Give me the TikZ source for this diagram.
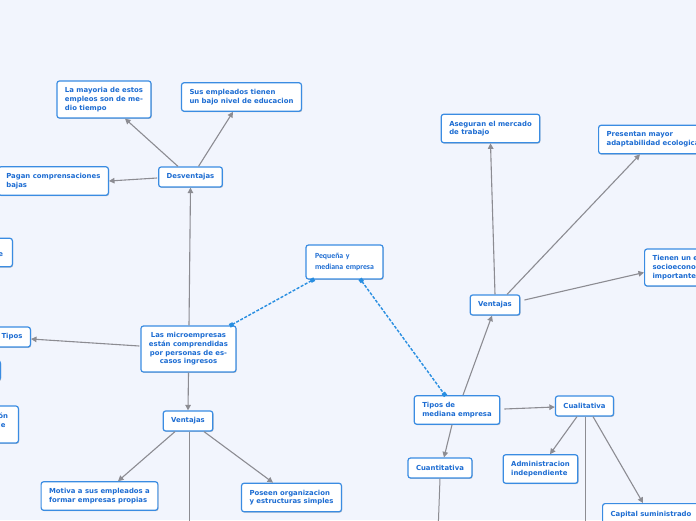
\documentclass[tikz,border=0pt]{standalone}
\usepackage{fontspec}
\newfontfamily\nodefont{DejaVu Sans}
\newfontfamily\pymefont{Carlito}
\usetikzlibrary{arrows.meta,shadows,calc}
\definecolor{bgc}{RGB}{242,245,253}
\definecolor{bordc}{RGB}{58,140,226}
\definecolor{txtc}{RGB}{28,108,210}
\definecolor{linec}{RGB}{140,140,146}
\definecolor{dashc}{RGB}{40,142,225}
\tikzset{
  mbox/.style={draw=bordc, line width=1.2pt, fill=white, rounded corners=2.5pt,
    text=txtc, font=\nodefont\bfseries\fontsize{6.9}{8.7}\selectfont,
    inner xsep=8pt, inner ysep=0pt, align=left,
    drop shadow={shadow xshift=0.7pt, shadow yshift=-0.9pt, opacity=0.22, fill=black}},
  h1/.style={minimum height=20pt},
  h2/.style={minimum height=28.5pt},
  h3/.style={minimum height=37pt},
  h4/.style={minimum height=46pt},
  conn/.style={draw=linec, line width=1.1pt, -{Triangle[length=5.5pt,width=5.5pt]}},
  plainconn/.style={draw=linec, line width=1pt},
  dconn/.style={draw=dashc, line width=1.4pt, dash pattern=on 3pt off 1.6pt,
    {Square[length=4pt,width=4pt,sep=-1pt]}-{Square[length=4pt,width=4pt,sep=-1pt]}},
}
\begin{document}
\begin{tikzpicture}[x=1pt,y=-1pt]
\useasboundingbox (0,0) rectangle (696,520);
\fill[bgc] (0,0) rectangle (696,520);

% central node
\node[mbox, font=\pymefont\bfseries\fontsize{7.8}{11}\selectfont, inner xsep=9pt, minimum width=77pt, minimum height=34pt, text width=59pt] (pyme) at (344.5,262) {Pequeña y\\mediana empresa};

% left branch
\node[mbox,h4,align=center] (micro) at (188.5,349) {Las microempresas\\están comprendidas\\por personas de es-\\casos ingresos};
\node[mbox,h1] (desv) at (190.5,177) {Desventajas};
\node[mbox,h3] (mayoria) at (104,99.5) {La mayoria de estos\\empleos son de me-\\dio tiempo};
\node[mbox,h2] (sus) at (241.5,97) {Sus empleados tienen\\un bajo nivel de educacion};
\node[mbox,h2,anchor=east] (pagan) at (109,181) {Pagan comprensaciones\\bajas};
\node[mbox,h2,anchor=east,text width=6pt] (leftA) at (13,252.5) {~\\e};
\node[mbox,h1,anchor=east] (tipos) at (31,337) {Tipos};
\node[mbox,h1,anchor=east,minimum width=30pt] (leftB) at (1,370.5) {};
\node[mbox,h3,anchor=east,text width=12pt] (leftC) at (19,424.5) {ón\\le\\~};
\node[mbox,h1] (vent1) at (188,421) {Ventajas};
\node[mbox,h2] (motiva) at (99.5,496) {Motiva a sus empleados a\\formar empresas propias};
\node[mbox,h2] (poseen) at (291.5,497.5) {Poseen organizacion\\y estructuras simples};

% right branch
\node[mbox,h2] (tiposm) at (457,410) {Tipos de\\mediana empresa};
\node[mbox,h1] (vent2) at (495,305) {Ventajas};
\node[mbox,h2] (asegura) at (490.5,128.5) {Aseguran el mercado\\de trabajo};
\node[mbox,h2,anchor=west] (presentan) at (598,139.5) {Presentan mayor\\adaptabilidad ecologica};
\node[mbox,h3,anchor=west] (tienen) at (644,267.5) {Tienen un estatus\\socioeconomico\\importante};
\node[mbox,h1] (cuali) at (584.5,406) {Cualitativa};
\node[mbox,h1] (cuanti) at (440,468) {Cuantitativa};
\node[mbox,h2] (admin) at (540.5,469) {Administracion\\independiente};
\node[mbox,h2,anchor=north west] (capital) at (602,503) {Capital suministrado\\~};

% off-page continuations
\coordinate (downA) at (189,560);
\coordinate (downB) at (585,560);
\coordinate (downC) at (437,560);

% connectors
\draw[conn] ([xshift=0.5pt]micro.north) -- (desv.south);
\draw[conn] ([xshift=-12.5pt]desv.north) -- ([xshift=21pt]mayoria.south);
\draw[conn] ([xshift=8pt]desv.north) -- ([xshift=-8.5pt]sus.south);
\draw[conn] ([xshift=-1pt,yshift=-1pt]desv.west) -- (pagan.east);
\draw[conn] ([xshift=-1pt,yshift=3pt]micro.west) -- ([yshift=-2pt]tipos.east);
\draw[conn] (micro.south) -- (vent1.north);
\draw[conn] ([xshift=-13pt]vent1.south) -- ([xshift=18.5pt]motiva.north);
\draw[conn] ([xshift=16pt]vent1.south) -- ([xshift=-18.5pt]poseen.north);
\draw[plainconn] ([xshift=1pt]vent1.south) -- (downA);

\draw[conn] ([xshift=6pt]tiposm.north) -- ([xshift=-3pt]vent2.south);
\draw[conn] (vent2.north) -- (asegura.south);
\draw[conn] ([xshift=12pt]vent2.north) -- ([xshift=42pt]presentan.south west);
\draw[conn] ([xshift=4pt,yshift=5pt]vent2.east) -- ([yshift=-5pt]tienen.west);
\draw[conn] ([xshift=4pt,yshift=1pt]tiposm.east) -- ([yshift=-1pt]cuali.west);
\draw[conn] ([xshift=-5pt]tiposm.south) -- ([xshift=4pt]cuanti.north);
\draw[conn] ([xshift=-7.5pt]cuali.south) -- ([xshift=9.5pt]admin.north);
\draw[conn] ([xshift=8.5pt]cuali.south) -- ([xshift=41pt]capital.north west);
\draw[plainconn] ([xshift=0.5pt]cuali.south) -- (downB);
\draw[plainconn] (cuanti.south) -- (downC);

% dashed links
\draw[dconn] ([xshift=8pt]pyme.south west) -- ([xshift=-6pt]micro.north east);
\draw[dconn] ([xshift=-23pt]pyme.south east) -- ([xshift=-12pt]tiposm.north);
\end{tikzpicture}
\end{document}
